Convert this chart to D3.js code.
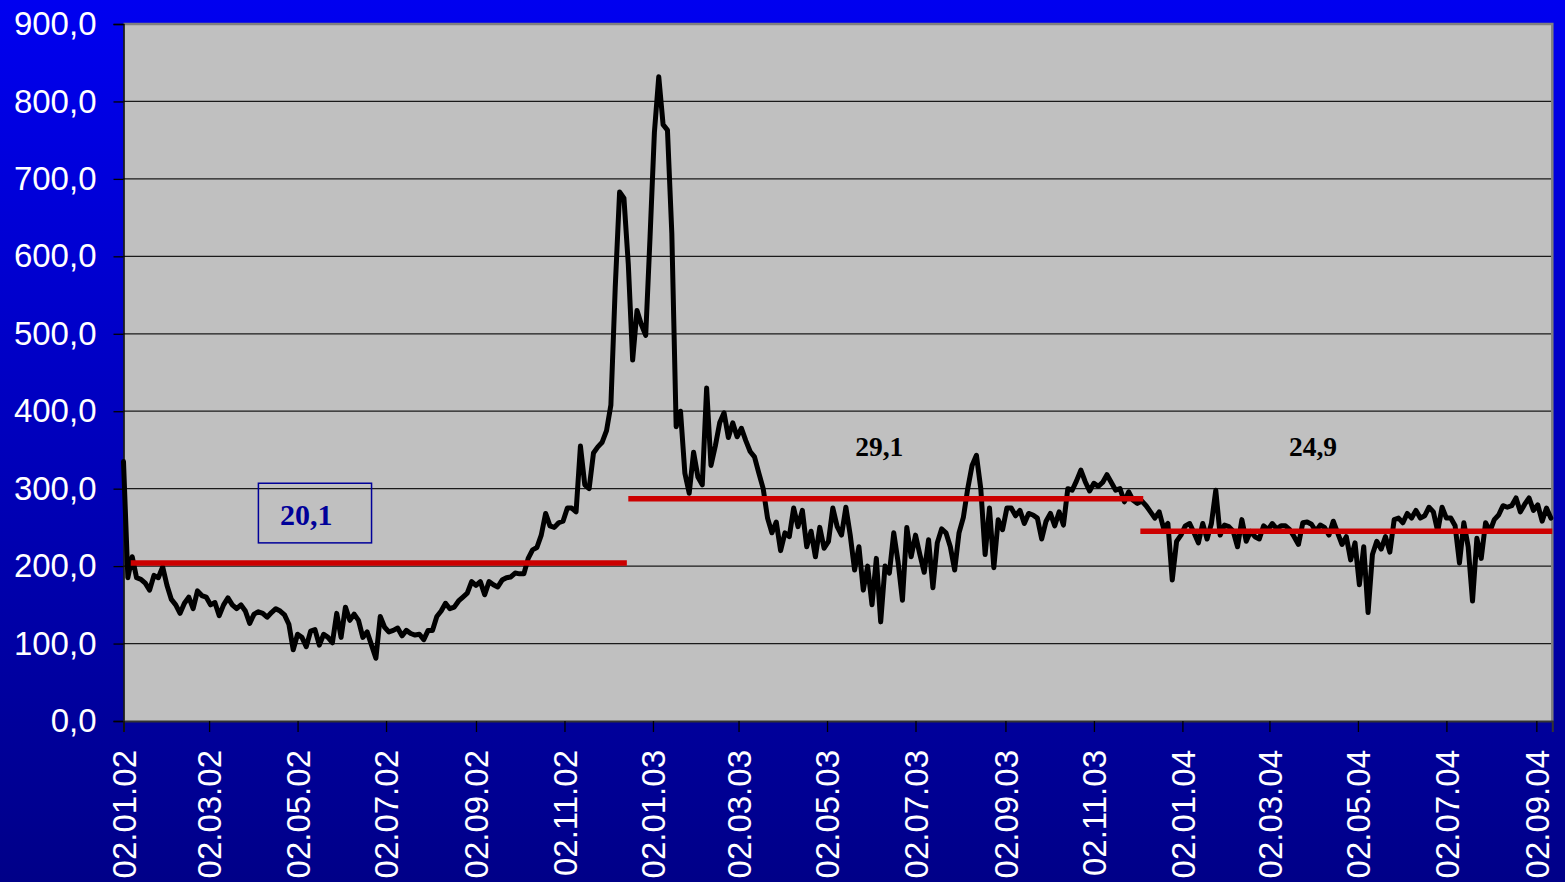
<!DOCTYPE html>
<html><head><meta charset="utf-8">
<script src="https://cdn.jsdelivr.net/npm/d3@7"></script>
<style>html,body{margin:0;padding:0;overflow:hidden;background:#0000c0}</style>
</head><body><svg id="c" width="1565" height="882"></svg>
<script>
// ---- data ----
const startDate = "2002-01-02";
const endDate = "2004-09-13";
const stepDays = 3; // one observation every 3 days
const values = [
335,185,212,185,183,178,169,188,185,199,
175,157,150,139,152,160,145,168,162,160,
150,153,136,150,159,150,145,150,142,126,
138,141,139,134,140,145,142,137,125,92,
112,108,96,116,118,98,112,108,101,139,
108,147,130,138,130,108,115,98,81,135,
121,115,117,120,110,117,113,111,112,105,
117,117,135,142,152,145,147,155,160,165,
180,175,180,163,180,176,173,182,185,186,
191,190,190,210,221,224,240,268,252,250,
256,258,275,275,270,355,305,300,346,354,
360,375,408,560,683,675,590,466,530,512,
498,625,760,832,770,763,630,380,400,320,
294,347,315,305,430,330,355,385,398,366,
385,367,378,362,348,341,320,300,262,243,
257,220,243,238,275,251,272,225,245,212,
250,223,232,275,251,240,276,240,195,225,
169,200,150,210,128,200,191,243,205,156,
250,212,240,215,192,234,172,230,248,243,
225,195,243,263,300,330,343,300,215,275,
198,260,247,275,275,265,272,255,268,266,
262,235,258,268,252,270,253,300,298,310,
324,309,297,307,303,308,318,308,298,300,
283,296,285,281,284,278,270,262,270,249,
255,182,232,240,252,255,243,230,255,235,
255,298,240,253,251,245,225,260,232,245,
238,235,252,247,255,248,252,252,247,238,
228,256,257,254,245,253,250,240,258,243,
228,238,208,230,176,225,140,215,232,222,
238,218,260,262,256,268,262,272,262,265,
276,270,245,276,262,262,252,204,256,225,
155,236,210,256,245,260,266,278,276,278,
288,270,280,288,272,279,258,275,262
];
const xTickLabels = ["02.01.02","02.03.02","02.05.02","02.07.02","02.09.02","02.11.02",
  "02.01.03","02.03.03","02.05.03","02.07.03","02.09.03","02.11.03",
  "02.01.04","02.03.04","02.05.04","02.07.04","02.09.04"];
const yTicks = [0,100,200,300,400,500,600,700,800,900];
// period averages (red lines) and their annotations
const periodStarts = ["2002-01-07","2002-12-16","2003-12-04"];
const periodEnds   = ["2002-12-15","2003-12-06","2004-09-13"];
const periodLevels = [204, 287, 245];
const periodLabels = ["20,1","29,1","24,9"];
const labelDates   = ["2002-05-08","2003-06-07","2004-04-01"];
const labelValues  = [266, 354, 354];
const boxFrom = "2002-04-05", boxTo = "2002-06-22", boxTop = 307, boxBottom = 230;

// ---- chart ----
const W = 1565, H = 882;
const L = 123.5, R = 1552.3, T = 24, B = 721;
const parseISO = d3.timeParse("%Y-%m-%d");
const parseTick = d3.timeParse("%d.%m.%y");
const svg = d3.select("#c");

const defs = svg.append("defs");
const grad = defs.append("linearGradient").attr("id","bg").attr("x1",0).attr("y1",0).attr("x2",0).attr("y2",1);
grad.append("stop").attr("offset","0%").attr("stop-color","#0000f0");
grad.append("stop").attr("offset","100%").attr("stop-color","#000088");
svg.append("rect").attr("width",W).attr("height",H).attr("fill","url(#bg)");

const x = d3.scaleTime().domain([parseISO(startDate), parseISO(endDate)]).range([L, R]);
const y = d3.scaleLinear().domain([0, 900]).range([B, T]);

// plot area
svg.append("rect").attr("x",L).attr("y",T).attr("width",R-L).attr("height",B-T).attr("fill","#c0c0c0");

// gridlines
svg.append("g").selectAll("line").data(yTicks.filter(v=>v>0 && v<900)).join("line")
  .attr("x1",L).attr("x2",R).attr("y1",d=>y(d)).attr("y2",d=>y(d))
  .attr("stroke","#1a1a1a").attr("stroke-width",1.2);

// frame top/right
svg.append("path").attr("d",`M${L},${T}H${R}V${B}`).attr("fill","none").attr("stroke","#808080").attr("stroke-width",2.5);

// series line
const start = parseISO(startDate);
const series = values.map((v,i)=>({date:d3.timeDay.offset(start, i*stepDays), v}));
const line = d3.line().x(d=>x(d.date)).y(d=>y(d.v));
svg.append("path").datum(series).attr("d",line).attr("fill","none")
  .attr("stroke","#000").attr("stroke-width",5).attr("stroke-linejoin","round").attr("stroke-linecap","round");

// red average lines
svg.append("g").selectAll("line").data(periodLevels).join("line")
  .attr("x1",(d,i)=>x(parseISO(periodStarts[i]))).attr("x2",(d,i)=>x(parseISO(periodEnds[i])))
  .attr("y1",d=>y(d)).attr("y2",d=>y(d))
  .attr("stroke","#cc0000").attr("stroke-width",5.5);

// annotation box
svg.append("rect").attr("x",x(parseISO(boxFrom))).attr("y",y(boxTop))
  .attr("width",x(parseISO(boxTo))-x(parseISO(boxFrom))).attr("height",y(boxBottom)-y(boxTop))
  .attr("fill","none").attr("stroke","#000099").attr("stroke-width",1.5);

// annotation labels
svg.append("g").selectAll("text").data(periodLabels).join("text")
  .attr("x",(d,i)=>x(parseISO(labelDates[i]))).attr("y",(d,i)=>y(labelValues[i]))
  .attr("dy","0.35em").attr("text-anchor","middle")
  .attr("font-family","'Liberation Serif','Times New Roman',serif").attr("font-weight","bold")
  .attr("font-size",(d,i)=>i===0?30:27.5)
  .attr("fill",(d,i)=>i===0?"#000099":"#000")
  .text(d=>d);

// axes
const locale = d3.formatLocale({decimal:",", thousands:" ", grouping:[3], currency:["",""]});
const yFmt = locale.format(".1f");
const yAxis = svg.append("g").attr("transform",`translate(${L},0)`)
  .call(d3.axisLeft(y).tickValues(yTicks).tickSize(10).tickPadding(17).tickFormat(yFmt));
yAxis.select(".domain").attr("stroke","#000").attr("stroke-width",1.5);
yAxis.selectAll(".tick line").attr("stroke","#000").attr("stroke-width",1.3);
yAxis.selectAll("text").attr("fill","#fff").attr("font-size",33)
  .attr("font-family","'Liberation Sans',Arial,sans-serif");

const tickDates = xTickLabels.map(s=>parseTick(s));
const xAxis = svg.append("g").attr("transform",`translate(0,${B})`)
  .call(d3.axisBottom(x).tickValues(tickDates).tickSize(11).tickFormat((d,i)=>xTickLabels[i]));
xAxis.select(".domain").attr("stroke","#333").attr("stroke-width",2);
xAxis.selectAll(".tick line").attr("stroke","#000").attr("stroke-width",1.3);
xAxis.selectAll("text").attr("fill","#fff").attr("font-size",33)
  .attr("font-family","'Liberation Sans',Arial,sans-serif")
  .attr("transform","rotate(-90)").attr("text-anchor","end")
  .attr("x",-29).attr("y",0).attr("dy","0.36em");
</script></body></html>
